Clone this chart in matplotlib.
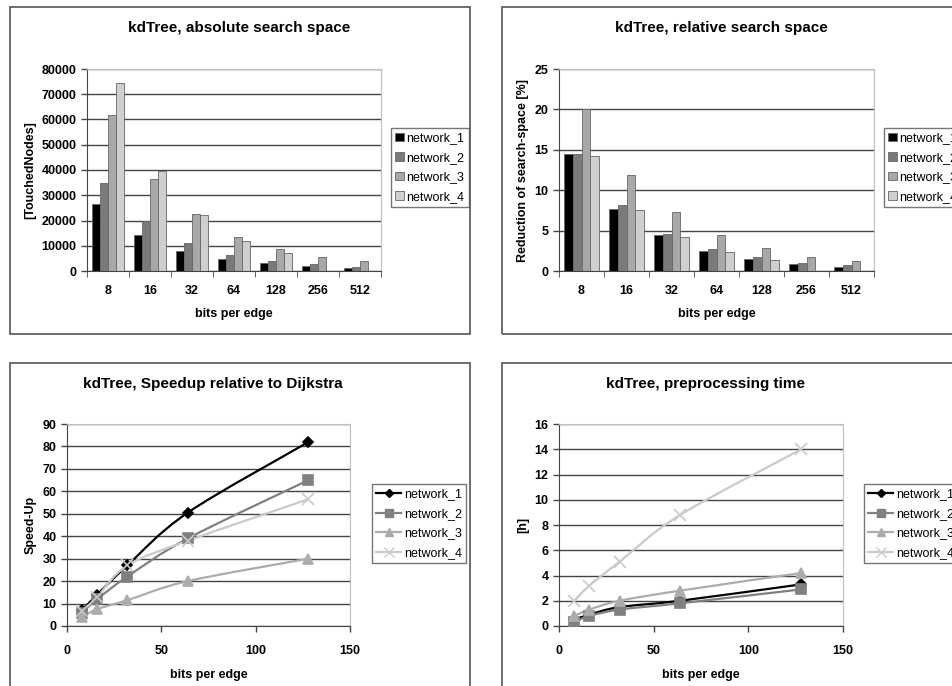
import numpy as np
import matplotlib.pyplot as plt
from matplotlib.patches import Rectangle
from matplotlib.path import Path
from matplotlib.patches import PathPatch

plt.rcParams['font.family'] = ['Liberation Sans', 'DejaVu Sans']

networks = ['network_1', 'network_2', 'network_3', 'network_4']
bits_cat = ['8', '16', '32', '64', '128', '256', '512']
bits = [8, 16, 32, 64, 128]

# absolute search space [TouchedNodes]
abs_n1 = [26500, 14100, 8000, 4700, 3100, 1800, 1000]
abs_n2 = [35000, 19800, 11000, 6300, 4000, 2600, 1500]
abs_n3 = [61800, 36500, 22700, 13300, 8700, 5500, 3900]
abs_n4 = [74300, 39800, 22000, 12000, 7000, 0, 0]

# relative search space [%]
rel_n1 = [14.5, 7.7, 4.4, 2.5, 1.5, 0.9, 0.5]
rel_n2 = [14.5, 8.2, 4.6, 2.7, 1.7, 1.0, 0.7]
rel_n3 = [20.1, 11.9, 7.3, 4.4, 2.8, 1.7, 1.2]
rel_n4 = [14.2, 7.6, 4.2, 2.4, 1.3, 0, 0]

# speedup relative to Dijkstra
spd_n1 = [7, 14, 27, 50.5, 82]
spd_n2 = [6, 12, 22, 39, 65]
spd_n3 = [4, 7.5, 11.5, 20, 30]
spd_n4 = [6.5, 13, 27, 38, 56.5]

# preprocessing time [h]
pre_n1 = [0.5, 0.9, 1.5, 2.0, 3.3]
pre_n2 = [0.3, 0.8, 1.3, 1.8, 2.9]
pre_n3 = [0.8, 1.3, 2.0, 2.8, 4.2]
pre_n4 = [2.0, 3.2, 5.1, 8.8, 14.0]

bar_colors = ['#000000', '#7a7a7a', '#a8a8a8', '#cfcfcf']
line_colors = ['#000000', '#808080', '#acacac', '#cacaca']
markers = ['D', 's', '^', 'x']
msizes = [5, 7, 7, 8]

W, H = 952, 686
fig = plt.figure(figsize=(W / 100, H / 100), dpi=100)


def box(x0, y0, x1, y1):
    return [x0 / W, 1 - y1 / H, (x1 - x0) / W, (y1 - y0) / H]


# panel frames
for (x0, y0, x1, y1) in [(10, 7, 470, 334), (502, 7, 960, 334),
                          (10, 363, 470, 700), (502, 363, 960, 700)]:
    fig.add_artist(Rectangle((x0 / W, 1 - y1 / H), (x1 - x0) / W, (y1 - y0) / H,
                             transform=fig.transFigure, fill=False,
                             edgecolor='#555555', lw=1.2, clip_on=False))


def style(ax, ymax, ystep):
    ax.set_ylim(0, ymax)
    ax.set_yticks(np.arange(0, ymax + 1e-9, ystep))
    ax.yaxis.grid(True, color='#444444', lw=1.0)
    ax.set_axisbelow(True)
    for s in ['top', 'right']:
        ax.spines[s].set_color('#c0c0c0')
    for s in ['left', 'bottom']:
        ax.spines[s].set_color('#444444')
    ax.tick_params(labelsize=9, length=4, color='#444444', width=1)
    for lab in ax.get_xticklabels() + ax.get_yticklabels():
        lab.set_fontweight('bold')


def bar_panel(rect, series, title, ylabel, ymax, ystep, title_y):
    ax = fig.add_axes(box(*rect))
    x = np.arange(len(bits_cat))
    w = 0.19
    for i, vals in enumerate(series):
        ax.bar(x + (i - 1.5) * w, vals, w, color=bar_colors[i],
               edgecolor='#666666', lw=0.6, label=networks[i])
    ax.set_xlim(-0.5, len(bits_cat) - 0.5)
    ax.set_xticks(x)
    ax.set_xticklabels(bits_cat)
    ax.set_xticks(np.arange(-0.5, len(bits_cat)), minor=True)
    ax.tick_params(axis='x', which='major', length=0, pad=10)
    ax.tick_params(axis='x', which='minor', length=4, color='#444444')
    style(ax, ymax, ystep)
    ax.tick_params(axis='x', which='major', length=0)
    ax.set_xlabel('bits per edge', fontsize=9, fontweight='bold', labelpad=8)
    ax.set_ylabel(ylabel, fontsize=9, fontweight='bold', labelpad=4)
    fig.text((rect[0] + rect[2]) / 2 / W + 0.005, 1 - title_y / H, title,
             ha='center', va='center', fontsize=11, fontweight='bold')
    return ax


def smooth_path(xs, ys):
    # Excel-style smoothed line: Bezier segments through the points
    px, py = np.asarray(xs, float), np.asarray(ys, float)
    verts = [(px[0], py[0])]
    codes = [Path.MOVETO]
    n = len(px)
    for i in range(n - 1):
        p0 = (px[max(i - 1, 0)], py[max(i - 1, 0)])
        p1 = (px[i], py[i])
        p2 = (px[i + 1], py[i + 1])
        p3 = (px[min(i + 2, n - 1)], py[min(i + 2, n - 1)])
        c1 = (p1[0] + (p2[0] - p0[0]) / 6, p1[1] + (p2[1] - p0[1]) / 6)
        c2 = (p2[0] - (p3[0] - p1[0]) / 6, p2[1] - (p3[1] - p1[1]) / 6)
        verts += [c1, c2, p2]
        codes += [Path.CURVE4] * 3
    return Path(verts, codes)


def line_panel(rect, series, title, ylabel, ymax, ystep, title_y):
    ax = fig.add_axes(box(*rect))
    for i, vals in enumerate(series):
        ax.add_patch(PathPatch(smooth_path(bits, vals), fill=False,
                               edgecolor=line_colors[i], lw=1.6, zorder=2))
        ax.plot(bits, vals, ls='none', marker=markers[i], ms=msizes[i],
                color=line_colors[i], mew=1.2, zorder=3)
        ax.plot([], [], color=line_colors[i], lw=1.6, marker=markers[i],
                ms=msizes[i] - 1, mew=1.0, label=networks[i])
    ax.set_xlim(0, 150)
    ax.set_xticks([0, 50, 100, 150])
    style(ax, ymax, ystep)
    ax.tick_params(axis='x', pad=10)
    ax.set_xlabel('bits per edge', fontsize=9, fontweight='bold', labelpad=8)
    ax.set_ylabel(ylabel, fontsize=9, fontweight='bold', labelpad=4)
    fig.text((rect[0] + rect[2]) / 2 / W + 0.005, 1 - title_y / H, title,
             ha='center', va='center', fontsize=11, fontweight='bold')
    return ax


def legend(ax, lx, ly, handlelength):
    lg = ax.legend(loc='upper left', bbox_to_anchor=(lx / W, 1 - ly / H),
                   bbox_transform=fig.transFigure, fontsize=9,
                   frameon=True, fancybox=False, edgecolor='#555555',
                   handlelength=handlelength, handletextpad=0.2,
                   labelspacing=0.6, borderpad=0.35, borderaxespad=0)
    lg.get_frame().set_linewidth(1.0)
    return lg


ax1 = bar_panel((87, 69, 381, 271), [abs_n1, abs_n2, abs_n3, abs_n4],
                'kdTree, absolute search space', '[TouchedNodes]', 80000, 10000, 28)
legend(ax1, 391, 128, 0.7)

ax2 = bar_panel((559, 69, 874, 271), [rel_n1, rel_n2, rel_n3, rel_n4],
                'kdTree, relative search space', 'Reduction of search-space [%]', 25, 5, 28)
legend(ax2, 884, 128, 0.7)

ax3 = line_panel((67, 424, 350, 626), [spd_n1, spd_n2, spd_n3, spd_n4],
                 'kdTree, Speedup relative to Dijkstra', 'Speed-Up', 90, 10, 384)
legend(ax3, 372, 484, 2.0)

ax4 = line_panel((559, 424, 843, 626), [pre_n1, pre_n2, pre_n3, pre_n4],
                 'kdTree, preprocessing time', '[h]', 16, 2, 384)
legend(ax4, 864, 484, 2.0)

plt.savefig('out.png', dpi=100)
